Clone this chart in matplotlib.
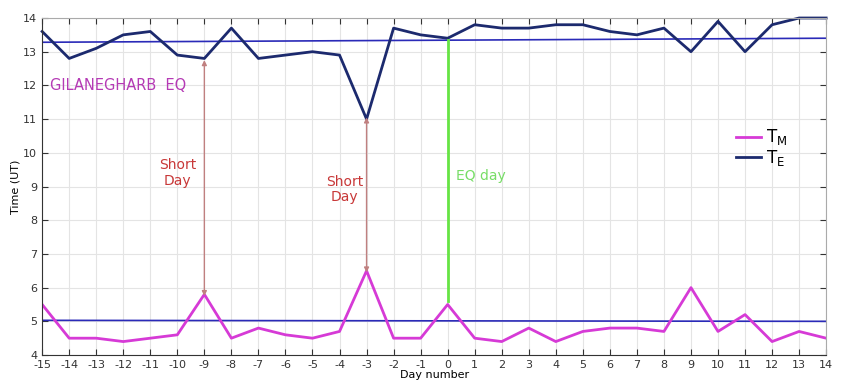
"""
Tiempos de terminador (T_M, T_E) alrededor del terremoto de Gilanegharb.
"""

import matplotlib.pyplot as plt
import numpy as np

plt.rcParams["axes.unicode_minus"] = False

days = np.arange(-15, 15)

# tiempo de la mañana (T_M) y de la tarde (T_E), en UT
t_m = [5.5, 4.5, 4.5, 4.4, 4.5, 4.6, 5.8, 4.5, 4.8, 4.6,
       4.5, 4.7, 6.5, 4.5, 4.5, 5.5, 4.5, 4.4, 4.8, 4.4,
       4.7, 4.8, 4.8, 4.7, 6.0, 4.7, 5.2, 4.4, 4.7, 4.5]
t_e = [13.6, 12.8, 13.1, 13.5, 13.6, 12.9, 12.8, 13.7, 12.8, 12.9,
       13.0, 12.9, 11.0, 13.7, 13.5, 13.4, 13.8, 13.7, 13.7, 13.8,
       13.8, 13.6, 13.5, 13.7, 13.0, 13.9, 13.0, 13.8, 14.0, 14.0]

# líneas de referencia (extremos)
trend_x = [-15, 14]
tm_trend = [5.03, 5.00]
te_trend = [13.28, 13.40]

# días cortos señalados
short_days = [-9, -3]
short_top = [12.75, 11.05]
short_bot = [5.75, 6.45]
short_text_x = [-10.0, -3.8]
short_text_y = [9.4, 8.9]

fig = plt.figure(figsize=(8.43, 3.83), dpi=100)
ax = fig.add_axes([0.05, 0.073, 0.93, 0.88])

ax.plot(trend_x, te_trend, color="#2a2ab8", lw=1.2)
ax.plot(trend_x, tm_trend, color="#2a2ab8", lw=1.2)
ax.plot(days, t_m, color="#d63ad6", lw=2, label=r"$\mathregular{T_M}$")
ax.plot(days, t_e, color="#1c2a6e", lw=2, label=r"$\mathregular{T_E}$",
        clip_on=False)

# día del terremoto
ax.plot([0, 0], [5.6, 13.35], color="#66e444", lw=2)
ax.text(0.3, 9.3, "EQ day", color="#77dd66", fontsize=10, va="center")

for d, top, bot, tx, ty in zip(short_days, short_top, short_bot,
                               short_text_x, short_text_y):
    ax.annotate("", xy=(d, top), xytext=(d, bot),
                arrowprops=dict(arrowstyle="<|-|>", color="#c08080", lw=1,
                                mutation_scale=7, shrinkA=0, shrinkB=0))
    ax.text(tx, ty, "Short\nDay", color="#c83838", fontsize=10,
            ha="center", va="center", linespacing=1.1)

ax.text(-14.7, 12.0, "GILANEGHARB  EQ", color="#b53ab5", fontsize=10.5,
        va="center")

ax.set_xlim(-15, 14)
ax.set_ylim(4, 14)
ax.set_xticks(days)
ax.set_yticks(np.arange(4, 15))
ax.tick_params(direction="in", labelsize=8, length=4, top=True, right=True,
               colors="#333333")
ax.grid(True, color="#e4e4e4", lw=0.8)
for s in ["top", "right"]:
    ax.spines[s].set_color("#aaaaaa")
for s in ["left", "bottom"]:
    ax.spines[s].set_color("#333333")

ax.set_xlabel("Day number", fontsize=8, labelpad=0)
ax.set_ylabel("Time (UT)", fontsize=8, labelpad=2)

ax.legend(loc="upper left", bbox_to_anchor=(0.875, 0.70), frameon=False,
          fontsize=12, handlelength=1.5, handletextpad=0.3,
          labelspacing=0.05, borderpad=0)

plt.savefig("out.png", dpi=100)
plt.close(fig)
